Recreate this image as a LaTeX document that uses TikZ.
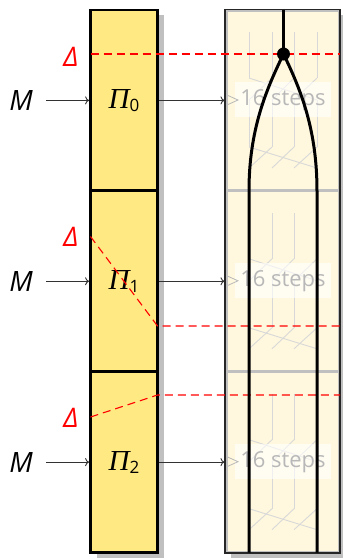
\documentclass[tikz,border=0pt]{standalone}
\usepackage{fontspec}
\newfontfamily\osans{Open Sans}
\newfontfamily\pserif{Liberation Serif}
\usetikzlibrary{arrows.meta}
\definecolor{boxyellow}{RGB}{255,233,130}
\definecolor{cream}{RGB}{255,248,222}
\definecolor{shadowgray}{RGB}{192,192,192}
\definecolor{sepgray}{RGB}{192,192,192}
\definecolor{faintline}{RGB}{216,216,216}
\definecolor{connector}{RGB}{50,50,50}
\tikzset{
  pibox/.style={draw=black, line width=2.8pt, fill=boxyellow, minimum width=67pt, minimum height=180.8pt, inner sep=0pt},
  secbox/.style={draw=sepgray, line width=3pt, fill=cream, minimum width=113pt, minimum height=180.8pt, inner sep=0pt},
  mlabel/.style={minimum width=50pt, inner sep=0pt, font=\osans\itshape\fontsize{28}{32}\selectfont},
  dlabel/.style={text=red, inner sep=0pt, font=\osans\itshape\fontsize{27}{31}\selectfont},
  conn/.style={draw=connector, line width=0.9pt, -{To[length=4pt,width=8pt]}},
  reddash/.style={draw=red, line width=1.1pt, dash pattern=on 8pt off 5pt},
  wire/.style={draw=black, line width=3pt},
  faint/.style={draw=faintline, line width=0.9pt},
  steplabel/.style={text=black!28, font=\osans\fontsize{22}{26}\selectfont, inner sep=0pt},
  splitdot/.style={circle, fill=black, inner sep=0pt, minimum size=13pt},
  frame/.style={draw=black!85, line width=1.2pt}
}
\newcommand{\pitext}[1]{{\pserif\itshape\fontsize{29}{31}\selectfont Π}{\osans\fontsize{17}{20}\selectfont\raisebox{-3pt}{#1}}}
\begin{document}
\begin{tikzpicture}[x=1pt,y=-1pt]
\useasboundingbox (0,0) rectangle (343,558);
% shadows
\fill[shadowgray] (96.5,15) rectangle (163.5,557.5);
\fill[shadowgray] (231,14.5) rectangle (346,558);
% left boxes
\node[pibox] (p0) at (124,100.4) {\pitext{0}};
\node[pibox] (p1) at (124,281.25) {\pitext{1}};
\node[pibox] (p2) at (124,462.1) {\pitext{2}};
% right sections
\node[secbox] (s0) at (282.5,100.4) {};
\node[secbox] (s1) at (282.5,281.25) {};
\node[secbox] (s2) at (282.5,462.1) {};
\draw[frame] (225,9.5) rectangle (340,553);
% faint step pattern
\foreach \T in {10,190.8,371.7}{
  \foreach \xx in {249,272,294,317}{
    \draw[faint] (\xx,{\T+22}) -- (\xx,{\T+68});
    \draw[faint] (\xx,{\T+90}) -- (\xx,{\T+137});
  }
  \foreach \yy/\zz in {68/90,137/158}{
    \draw[faint] (249,{\T+\yy}) -- (317,{\T+\zz});
    \draw[faint] (272,{\T+\yy}) -- (249,{\T+\zz});
    \draw[faint] (294,{\T+\yy}) -- (272,{\T+\zz});
    \draw[faint] (317,{\T+\yy}) -- (294,{\T+\zz});
  }
  \fill[white, opacity=0.6] (235,{\T+72}) rectangle (331,{\T+107});
  \draw[black!28, line width=0.8pt] (228,{\T+85.5}) -- (238,{\T+90}) -- (228,{\T+94.5});
}
\node[steplabel] (t0) at (283,100.4) {16 steps};
\node[steplabel] (t1) at (283,281.25) {16 steps};
\node[steplabel] (t2) at (283,462.1) {16 steps};
% inputs
\node[mlabel] (m0) at (21,101) {M};
\node[mlabel] (m1) at (21,281.8) {M};
\node[mlabel] (m2) at (21,462.6) {M};
\draw[conn] (m0.east |- p0) -- (p0);
\draw[conn] (m1.east |- p1) -- (p1);
\draw[conn] (m2.east |- p2) -- (p2);
\draw[conn] (p0) -- (s0.west);
\draw[conn] (p1) -- (s1.west);
\draw[conn] (p2) -- (s2.west);
% red differences
\node[dlabel] (d0) at (71,56.5) {Δ};
\node[dlabel] (d1) at (71,237) {Δ};
\node[dlabel] (d2) at (71,417.5) {Δ};
\coordinate (r0a) at (90.5,54);
\coordinate (r0b) at (340,54);
\coordinate (r1a) at (90.5,236.5);
\coordinate (r1b) at (157.5,326);
\coordinate (r1c) at (340,326);
\coordinate (r2a) at (90.5,417);
\coordinate (r2b) at (157.5,395);
\coordinate (r2c) at (340,395);
\draw[reddash] (r0a) -- (r0b);
\draw[reddash] (r1a) -- (r1b) -- (r1c);
\draw[reddash] (r2a) -- (r2b) -- (r2c);
% wires
\coordinate (split) at (283.5,54);
\coordinate (wtop) at (283.5,9.5);
\coordinate (wl) at (249,190.8);
\coordinate (wlb) at (249,552.5);
\coordinate (wr) at (317,190.8);
\coordinate (wrb) at (317,552.5);
\draw[wire] (wtop) -- (split);
\draw[wire] (split) .. controls (266,90) and (249,130) .. (wl) -- (wlb);
\draw[wire] (split) .. controls (301,90) and (317,130) .. (wr) -- (wrb);
\node[splitdot] (dot) at (split) {};
\end{tikzpicture}
\end{document}
